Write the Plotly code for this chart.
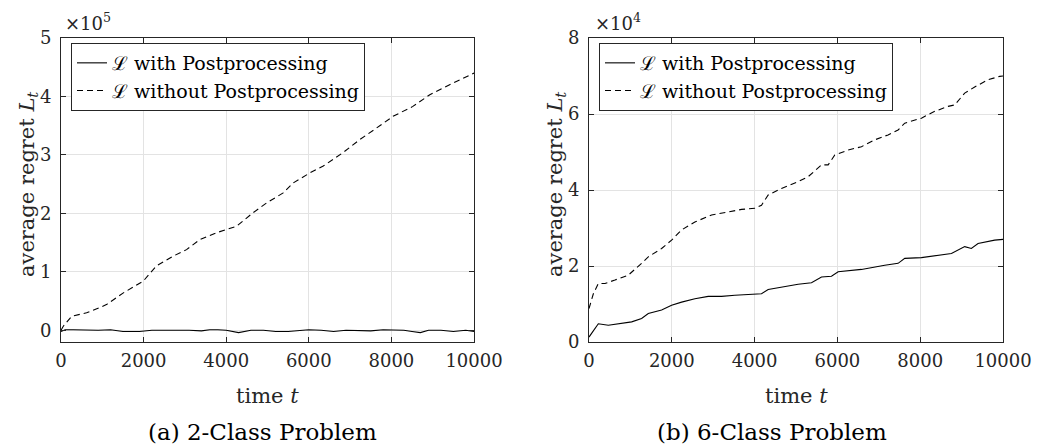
import plotly.graph_objects as go

# ---- data (values in plotted units: left ×1e5, right ×1e4) ----
t_a_with = [0, 100, 300, 600, 900, 1200, 1500, 1700, 1900, 2200, 2500, 2800, 3100, 3400, 3600,
            3800, 4000, 4300, 4600, 4900, 5200, 5500, 5800, 6000, 6300, 6600, 6900, 7200, 7500,
            7800, 8100, 8300, 8500, 8700, 8900, 9200, 9500, 9800, 10000]
a_with = [-0.02, 0.01, 0.01, 0.0, 0.0, 0.01, -0.02, -0.02, -0.02, 0.0, 0.0, 0.01, 0.0, -0.01, 0.01,
          0.01, 0.0, -0.04, 0.0, 0.0, -0.02, -0.02, 0.0, 0.01, 0.0, -0.02, 0.0, -0.01, -0.01,
          0.01, 0.01, 0.0, -0.02, -0.04, 0.0, 0.0, -0.02, 0.0, -0.02]

t_a_without = [0, 56, 258, 620, 940, 1100, 1510, 1990, 2310, 2720, 3040, 3360, 3770, 4250, 4650,
               4980, 5380, 5620, 6020, 6350, 6830, 7230, 7640, 8040, 8520, 8930, 9410, 10000]
a_without = [0.0, 0.07, 0.24, 0.30, 0.39, 0.44, 0.64, 0.84, 1.10, 1.27, 1.38, 1.55, 1.67, 1.78, 2.01,
             2.18, 2.35, 2.52, 2.69, 2.81, 3.04, 3.26, 3.46, 3.66, 3.83, 4.03, 4.20, 4.40]

t_b_with = [0, 225, 467, 788, 1030, 1271, 1432, 1754, 1995, 2237, 2558, 2880, 3202, 3524, 4006,
            4167, 4328, 4650, 5052, 5374, 5616, 5857, 6018, 6581, 6903, 7144, 7466, 7627, 8029,
            8432, 8754, 9075, 9236, 9397, 9799, 10000]
b_with = [0.13, 0.48, 0.44, 0.50, 0.53, 0.62, 0.75, 0.84, 0.97, 1.05, 1.14, 1.20, 1.20, 1.23, 1.26,
          1.27, 1.38, 1.45, 1.52, 1.56, 1.71, 1.73, 1.85, 1.91, 1.98, 2.02, 2.07, 2.20, 2.22,
          2.29, 2.33, 2.51, 2.46, 2.59, 2.68, 2.70]

t_b_without = [0, 105, 225, 386, 627, 950, 1271, 1432, 1754, 1995, 2237, 2558, 2960, 3363, 3685,
               4006, 4167, 4328, 4650, 5052, 5294, 5616, 5776, 5937, 6259, 6581, 6903, 7224, 7466,
               7627, 8029, 8351, 8673, 8834, 9075, 9316, 9638, 9920, 10000]
b_without = [0.88, 1.27, 1.54, 1.54, 1.63, 1.76, 2.07, 2.24, 2.46, 2.68, 2.95, 3.16, 3.34, 3.43, 3.49,
             3.52, 3.60, 3.87, 4.04, 4.22, 4.35, 4.66, 4.66, 4.92, 5.05, 5.14, 5.32, 5.45, 5.58,
             5.76, 5.89, 6.07, 6.20, 6.24, 6.55, 6.71, 6.90, 6.99, 7.00]

x_ticks = [0, 2000, 4000, 6000, 8000, 10000]
ya_ticks = [0, 1, 2, 3, 4, 5]
yb_ticks = [0, 2, 4, 6, 8]

name_with = "ℒ with Postprocessing"
name_without = "ℒ without Postprocessing"
captions = ["(a) 2-Class Problem", "(b) 6-Class Problem"]
multipliers = ["×10<sup>5</sup>", "×10<sup>4</sup>"]

FONT = "DejaVu Serif"
AX = "#262626"

fig = go.Figure()
fig.add_trace(go.Scatter(x=t_a_with, y=a_with, mode="lines", name=name_with,
                         line=dict(color="black", width=1.1), xaxis="x", yaxis="y", legend="legend"))
fig.add_trace(go.Scatter(x=t_a_without, y=a_without, mode="lines", name=name_without,
                         line=dict(color="black", width=1.1, dash="6px,4px"), xaxis="x", yaxis="y", legend="legend"))
fig.add_trace(go.Scatter(x=t_b_with, y=b_with, mode="lines", name=name_with,
                         line=dict(color="black", width=1.1), xaxis="x2", yaxis="y2", legend="legend2"))
fig.add_trace(go.Scatter(x=t_b_without, y=b_without, mode="lines", name=name_without,
                         line=dict(color="black", width=1.1, dash="6px,4px"), xaxis="x2", yaxis="y2", legend="legend2"))

W, H = 1045, 448
def px(x):
    return x / W
def py(y):
    return 1 - y / H

axis_common = dict(showline=True, linecolor=AX, linewidth=1, mirror="ticks", ticks="inside",
                   ticklen=5, tickcolor=AX, showgrid=True, gridcolor="#e3e3e3", gridwidth=1,
                   zeroline=False, automargin=False, tickfont=dict(family=FONT, size=18, color=AX))

fig.update_layout(
    width=W, height=H, margin=dict(l=0, r=0, t=0, b=0, autoexpand=False),
    paper_bgcolor="white", plot_bgcolor="white",
    font=dict(family=FONT, size=18, color=AX),
    xaxis=dict(domain=[px(61), px(474)], range=[0, 10000], tickvals=x_ticks,
               ticktext=[str(v) for v in x_ticks], anchor="y", ticklabelstandoff=2, **axis_common),
    yaxis=dict(domain=[py(342), py(38)], range=[-0.2, 5], tickvals=ya_ticks,
               ticktext=[str(v) for v in ya_ticks], anchor="x", ticklabelstandoff=5, **axis_common),
    xaxis2=dict(domain=[px(589), px(1003)], range=[0, 10000], tickvals=x_ticks,
                ticktext=[str(v) for v in x_ticks], anchor="y2", ticklabelstandoff=2, **axis_common),
    yaxis2=dict(domain=[py(342), py(38)], range=[0, 8], tickvals=yb_ticks,
                ticktext=[str(v) for v in yb_ticks], anchor="x2", ticklabelstandoff=5, **axis_common),
    legend=dict(x=px(71), y=py(43), xanchor="left", yanchor="top", bgcolor="white",
                bordercolor=AX, borderwidth=1, font=dict(family=FONT, size=19, color="black"),
                tracegroupgap=0, itemwidth=30),
    legend2=dict(x=px(599), y=py(43), xanchor="left", yanchor="top", bgcolor="white",
                 bordercolor=AX, borderwidth=1, font=dict(family=FONT, size=19, color="black"),
                 tracegroupgap=0, itemwidth=30),
)

ann = []
for i, (xc, capx, ylab_x, x0) in enumerate([(267.5, 262.5, 28, 63), (796, 771.5, 556, 593)]):
    ann.append(dict(x=px(xc), y=py(396), xref="paper", yref="paper", text="time <i>t</i>",
                    showarrow=False, xanchor="center", yanchor="middle", font=dict(family=FONT, size=21, color=AX)))
    ann.append(dict(x=px(capx), y=py(432), xref="paper", yref="paper", text=captions[i],
                    showarrow=False, xanchor="center", yanchor="middle", font=dict(family=FONT, size=23, color="black")))
    ann.append(dict(x=px(x0), y=py(22), xref="paper", yref="paper", text=multipliers[i],
                    showarrow=False, xanchor="left", yanchor="middle", font=dict(family=FONT, size=18, color=AX)))
    ann.append(dict(x=px(ylab_x), y=py(185), xref="paper", yref="paper",
                    text="average regret <i>L</i><sub><i>t</i></sub>", textangle=-90,
                    showarrow=False, xanchor="center", yanchor="middle", font=dict(family=FONT, size=21, color=AX)))
fig.update_layout(annotations=ann)

fig.write_html("out.html")
